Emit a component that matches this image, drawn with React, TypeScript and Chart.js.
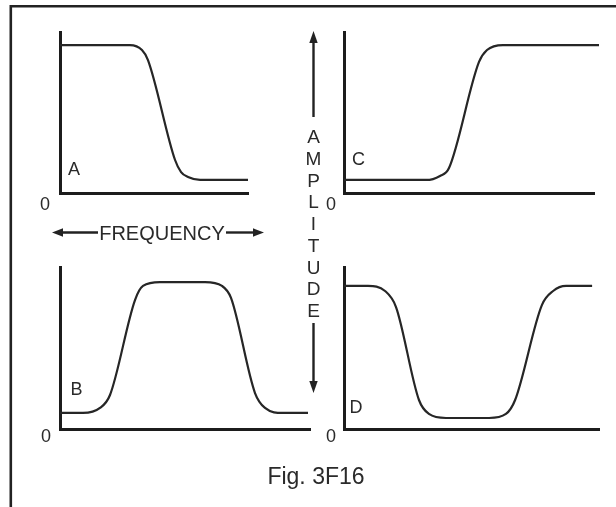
import React, { useEffect, useRef } from "react";
import { Chart, registerables } from "chart.js";

Chart.register(...registerables);

// Frequency (% of axis length) and amplitude (% of axis height)
const freqA = [0, 37.2, 43.6, 46.8, 61.2, 64.4, 68.1, 74.5, 100];
const ampA = [91.9, 91.9, 88.8, 82.6, 20.5, 13.0, 9.9, 8.1, 8.1];

const freqB = [0, 9.2, 16.0, 20.0, 30.0, 33.2, 40.0, 58.0, 64.8, 68.4, 78.0, 82.0, 89.2, 99.2];
const ampB = [9.9, 9.9, 13.0, 21.0, 79.6, 88.3, 90.7, 90.7, 88.3, 80.9, 22.2, 13.0, 9.9, 9.9];

const freqC = [0, 32.8, 38.4, 42.0, 54.0, 57.2, 63.6, 102];
const ampC = [8.1, 8.1, 10.6, 15.5, 81.4, 88.8, 91.9, 91.9];

const freqD = [0, 9.4, 16.1, 20.4, 29.4, 33.3, 40.0, 56.9, 63.5, 67.1, 77.6, 82.0, 87.1, 97.3];
const ampD = [88.3, 88.3, 85.2, 75.3, 17.9, 9.3, 6.8, 6.8, 9.3, 17.9, 76.5, 85.2, 88.3, 88.3];

const panelLabels = ["A", "B", "C", "D"];
const amplitudeLetters = "AMPLITUDE".split("");
const frequencyLabel = "FREQUENCY";
const captionText = "Fig. 3F16";
const zeroLabel = "0";

const INK = "#262626";
const FONT = "'Liberation Sans', Arial, Helvetica, sans-serif";

type PanelProps = {
  freq: number[];
  amp: number[];
  left: number;
  top: number;
  width: number;
  height: number;
  padding: { left: number; right: number; top: number; bottom: number };
};

function Panel({ freq, amp, left, top, width, height, padding }: PanelProps) {
  const ref = useRef<HTMLCanvasElement | null>(null);
  useEffect(() => {
    if (!ref.current) return;
    const points = freq.map((f, i) => ({ x: f, y: amp[i] }));
    const axis = {
      type: "linear" as const,
      min: 0,
      max: 100,
      grid: { display: false, drawTicks: false },
      ticks: { display: false },
      border: { display: true, width: 3, color: "#1c1c1c" },
    };
    const chart = new Chart(ref.current, {
      type: "line",
      data: {
        datasets: [
          {
            data: points,
            borderColor: INK,
            borderWidth: 2.2,
            pointRadius: 0,
            fill: false,
            cubicInterpolationMode: "monotone",
            clip: false as any,
          },
        ],
      },
      options: {
        animation: false,
        responsive: false,
        maintainAspectRatio: false,
        devicePixelRatio: 1,
        layout: { padding },
        plugins: { legend: { display: false }, tooltip: { enabled: false } },
        scales: { x: { ...axis }, y: { ...axis } },
      },
    });
    return () => chart.destroy();
  }, []);
  return (
    <canvas
      ref={ref}
      width={width}
      height={height}
      style={{ position: "absolute", left, top, width, height }}
    />
  );
}

function Label({ text, x, y, size }: { text: string; x: number; y: number; size: number }) {
  return (
    <div
      style={{
        position: "absolute",
        left: x,
        top: y,
        transform: "translate(-50%, -50%)",
        fontFamily: FONT,
        fontSize: size,
        lineHeight: 1,
        color: "#2a2a2a",
        whiteSpace: "nowrap",
      }}
    >
      {text}
    </div>
  );
}

export default function App() {
  return (
    <div
      style={{
        position: "absolute",
        left: 0,
        top: 0,
        width: 616,
        height: 507,
        overflow: "hidden",
        background: "#fff",
      }}
    >
      <Panel freq={freqA} amp={ampA} left={30} top={15} width={240} height={195}
        padding={{ left: 30, top: 17, right: 22, bottom: 17 }} />
      <Panel freq={freqB} amp={ampB} left={30} top={250} width={300} height={195}
        padding={{ left: 30, top: 17, right: 20, bottom: 16 }} />
      <Panel freq={freqC} amp={ampC} left={320} top={15} width={290} height={195}
        padding={{ left: 24, top: 17, right: 16, bottom: 17 }} />
      <Panel freq={freqD} amp={ampD} left={320} top={250} width={290} height={195}
        padding={{ left: 24, top: 17, right: 11, bottom: 16 }} />

      <svg width={616} height={507} style={{ position: "absolute", left: 0, top: 0 }}>
        {/* frame */}
        <line x1={10.8} y1={6.2} x2={616} y2={6.2} stroke="#222" strokeWidth={2.6} />
        <line x1={10.8} y1={5} x2={10.8} y2={507} stroke="#222" strokeWidth={2.6} />
        {/* frequency arrow */}
        <line x1={60} y1={232.5} x2={98} y2={232.5} stroke="#222" strokeWidth={2.4} />
        <polygon points="52,232.5 63,228.3 63,236.7" fill="#222" />
        <line x1={226} y1={232.5} x2={256} y2={232.5} stroke="#222" strokeWidth={2.4} />
        <polygon points="264,232.5 253,228.3 253,236.7" fill="#222" />
        {/* amplitude arrows */}
        <line x1={313.5} y1={40} x2={313.5} y2={117} stroke="#222" strokeWidth={2.4} />
        <polygon points="313.5,31 309.3,43 317.7,43" fill="#222" />
        <line x1={313.5} y1={323} x2={313.5} y2={384} stroke="#222" strokeWidth={2.4} />
        <polygon points="313.5,393 309.3,381 317.7,381" fill="#222" />
      </svg>

      <Label text={panelLabels[0]} x={74} y={168.5} size={18} />
      <Label text={panelLabels[1]} x={76.5} y={388.5} size={18} />
      <Label text={panelLabels[2]} x={358.5} y={158.5} size={18} />
      <Label text={panelLabels[3]} x={356} y={406.5} size={18} />

      <Label text={zeroLabel} x={45} y={204} size={18} />
      <Label text={zeroLabel} x={46} y={435.5} size={18} />
      <Label text={zeroLabel} x={331} y={203.5} size={18} />
      <Label text={zeroLabel} x={331} y={435.5} size={18} />

      {amplitudeLetters.map((ch, i) => (
        <Label key={i} text={ch} x={313.5} y={136 + i * 21.75} size={19} />
      ))}

      <Label text={frequencyLabel} x={162} y={232.5} size={20} />
      <Label text={captionText} x={316} y={476} size={23} />
    </div>
  );
}
